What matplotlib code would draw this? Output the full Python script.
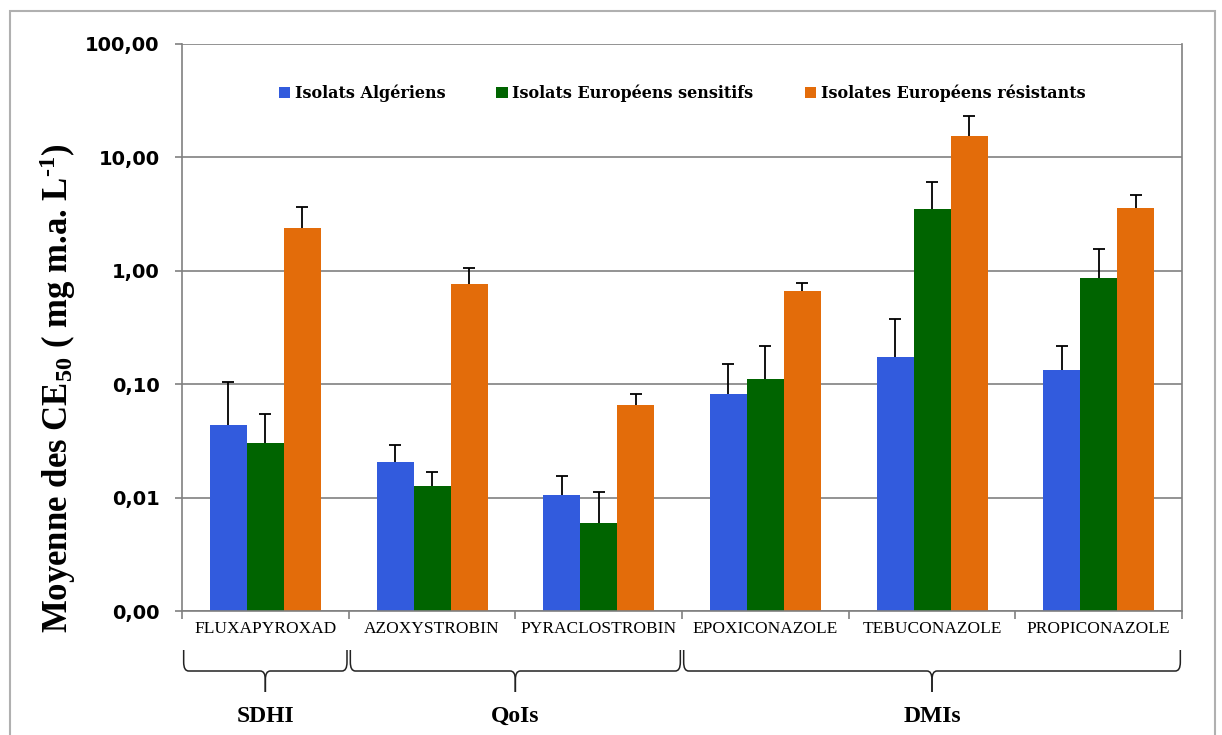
import matplotlib
matplotlib.use("Agg")
import matplotlib.pyplot as plt
import numpy as np
from matplotlib.path import Path
from matplotlib.patches import PathPatch, Rectangle
import matplotlib.transforms as mtransforms

matplotlib.rcParams["mathtext.fontset"] = "custom"
matplotlib.rcParams["mathtext.rm"] = "Liberation Serif:bold"
matplotlib.rcParams["mathtext.it"] = "Liberation Serif:bold"
matplotlib.rcParams["mathtext.bf"] = "Liberation Serif:bold"

categories = ["FLUXAPYROXAD", "AZOXYSTROBIN", "PYRACLOSTROBIN",
              "EPOXICONAZOLE", "TEBUCONAZOLE", "PROPICONAZOLE"]
series_names = ["Isolats Algériens", "Isolats Européens sensitifs",
                "Isolates Européens résistants"]
algeriens = [0.044, 0.0207, 0.0105, 0.082, 0.175, 0.134]
algeriens_err_top = [0.104, 0.0292, 0.0156, 0.152, 0.378, 0.217]
eu_sensitifs = [0.030, 0.0127, 0.0060, 0.111, 3.51, 0.86]
eu_sensitifs_err_top = [0.055, 0.0169, 0.0112, 0.217, 6.1, 1.56]
eu_resistants = [2.38, 0.77, 0.0656, 0.67, 15.3, 3.59]
eu_resistants_err_top = [3.64, 1.06, 0.0827, 0.78, 23.4, 4.66]
groups = ["SDHI", "QoIs", "DMIs"]
group_first = [0, 1, 3]
group_last = [0, 2, 5]
y_ticks = [0.001, 0.01, 0.1, 1, 10, 100]
y_tick_labels = ["0,00", "0,01", "0,10", "1,00", "10,00", "100,00"]

colors = ["#325BDD", "#006400", "#E36C0A"]

fig = plt.figure(figsize=(12.22, 7.35), dpi=100)
ax = fig.add_axes([182/1222, 1-611/735, (1182-182)/1222, (611-44)/735])

x = np.arange(len(categories))
w = 0.222
vals = [algeriens, eu_sensitifs, eu_resistants]
tops = [algeriens_err_top, eu_sensitifs_err_top, eu_resistants_err_top]
for i, (v, t, c, name) in enumerate(zip(vals, tops, colors, series_names)):
    xs = x + (i - 1) * w
    ax.bar(xs, v, width=w, color=c, label=name, zorder=2)
    v = np.array(v); t = np.array(t)
    ax.vlines(xs, v, t, color="black", lw=1.3, zorder=3)
    ax.plot(xs, t, ls="none", marker="_", ms=9, mew=1.3, color="black", zorder=3)

ax.set_yscale("log")
ax.set_ylim(0.001, 100)
ax.set_xlim(-0.5, len(categories) - 0.5)
ax.yaxis.set_major_locator(matplotlib.ticker.FixedLocator(y_ticks))
ax.yaxis.set_major_formatter(matplotlib.ticker.FixedFormatter(y_tick_labels))
ax.yaxis.set_minor_locator(matplotlib.ticker.NullLocator())
ax.grid(axis="y", color="#808080", lw=1.2, zorder=0)
for s in ax.spines.values():
    s.set_color("#808080")
    s.set_linewidth(1.2)
ax.spines["top"].set_visible(False)
ax.tick_params(axis="y", direction="out", length=5, color="#808080", width=1.2, pad=11)
for lab in ax.get_yticklabels():
    lab.set_fontfamily("DejaVu Sans")
    lab.set_fontweight("bold")
    lab.set_fontsize(14)

ax.set_xticks(x)
ax.set_xticklabels(categories, fontfamily="Liberation Serif", fontsize=12.5)
ax.tick_params(axis="x", which="major", length=0, pad=7)
ax.set_xticks(np.arange(-0.5, len(categories), 1.0), minor=True)
ax.tick_params(axis="x", which="minor", length=6, color="#808080", width=1.2, direction="out")

fig.text(58/1222, 1 - 388/735, "Moyenne des CE$_{50}$ ( mg m.a. L$^{\\text{-1}}$)",
         fontfamily="Liberation Serif", fontweight="bold", fontsize=25,
         rotation=90, ha="center", va="center")

leg = ax.legend(loc="center", bbox_to_anchor=(0.5, 0.913), ncol=3, frameon=False,
                prop={"family": "DejaVu Serif", "weight": "bold", "size": 11.5},
                handlelength=0.7, handleheight=0.7, handletextpad=0.3, columnspacing=3.2)

# group braces
trans = mtransforms.blended_transform_factory(ax.transData, fig.transFigure)
y_top = 1 - 650/735
y_mid = 1 - 671/735
y_tip = 1 - 692/735
r = 0.012
for name, a, b in zip(groups, group_first, group_last):
    x0 = a - 0.5 + 0.01
    x1 = b + 0.5 - 0.01
    xc = (x0 + x1) / 2
    dx = 0.03
    codes = [Path.MOVETO, Path.LINETO, Path.CURVE3, Path.CURVE3,
             Path.LINETO, Path.CURVE3, Path.CURVE3, Path.LINETO]
    verts = [(x0, y_top), (x0, y_mid + r), (x0, y_mid), (x0 + dx, y_mid),
             (xc - dx, y_mid), (xc, y_mid), (xc, y_mid - r), (xc, y_tip)]
    ax.add_patch(PathPatch(Path(verts, codes), transform=trans, fill=False,
                           lw=1.1, color="#222222", clip_on=False))
    verts2 = [(xc, y_tip), (xc, y_mid - r), (xc, y_mid), (xc + dx, y_mid),
              (x1 - dx, y_mid), (x1, y_mid), (x1, y_mid + r), (x1, y_top)]
    ax.add_patch(PathPatch(Path(verts2, codes), transform=trans, fill=False,
                           lw=1.1, color="#222222", clip_on=False))
    ax.text(xc, 1 - 716/735, name, transform=trans, ha="center", va="center",
            fontfamily="Liberation Serif", fontweight="bold", fontsize=17)

fig.patches.append(Rectangle((10/1222, -0.05), (1215-10)/1222, 1.05 - 11/735,
                             transform=fig.transFigure, fill=False,
                             edgecolor="#b0b0b0", lw=1.5))

fig.savefig("out.png", dpi=100)
